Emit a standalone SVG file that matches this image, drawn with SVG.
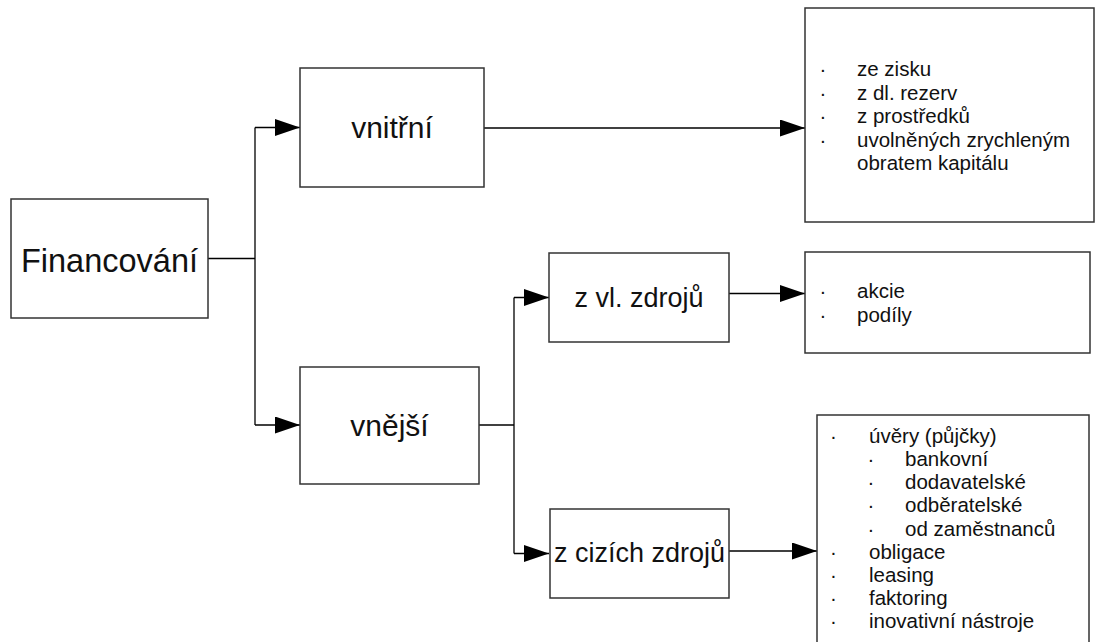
<svg xmlns="http://www.w3.org/2000/svg" width="1096" height="642" viewBox="0 0 1096 642">
  <style>
    .box { fill: #ffffff; stroke: #333333; stroke-width: 1.5; }
    .wire { fill: none; stroke: #000000; stroke-width: 1.3; }
    .lbl { font-family: "Liberation Sans", Arial, sans-serif; fill: #111111; text-anchor: middle; }
    .item { font-family: "Liberation Sans", Arial, sans-serif; font-size: 20.5px; fill: #111111; }
    .dot { font-family: "Liberation Sans", Arial, sans-serif; font-size: 20.5px; fill: #111111; text-anchor: middle; }
  </style>
  <defs>
    <marker id="arrow" markerUnits="userSpaceOnUse" markerWidth="26" markerHeight="18" refX="25" refY="8.5" orient="auto">
      <path d="M0,0 L25,8.5 L0,17 z" fill="#000000"/>
    </marker>
  </defs>

  <rect width="1096" height="642" fill="#ffffff"/>

  <!-- connectors -->
  <g id="connectors">
    <polyline class="wire" points="208,258.5 255,258.5"/>
    <polyline class="wire" points="255,127.5 255,425"/>
    <line class="wire" x1="255" y1="127.5" x2="300" y2="127.5" marker-end="url(#arrow)"/>
    <line class="wire" x1="255" y1="425" x2="300" y2="425" marker-end="url(#arrow)"/>
    <line class="wire" x1="484" y1="128" x2="805" y2="128" marker-end="url(#arrow)"/>
    <polyline class="wire" points="479,425 514,425"/>
    <polyline class="wire" points="514,297.5 514,553.5"/>
    <line class="wire" x1="514" y1="297.5" x2="549" y2="297.5" marker-end="url(#arrow)"/>
    <line class="wire" x1="514" y1="553.5" x2="549" y2="553.5" marker-end="url(#arrow)"/>
    <line class="wire" x1="729" y1="293.5" x2="805" y2="293.5" marker-end="url(#arrow)"/>
    <line class="wire" x1="729" y1="551" x2="817" y2="551" marker-end="url(#arrow)"/>
  </g>

  <g id="financovani">
    <rect class="box" x="11" y="199" width="197" height="119"/>
    <text class="lbl" x="109.5" y="272" font-size="32.5">Financování</text>
  </g>

  <g id="vnitrni">
    <rect class="box" x="300" y="68" width="184" height="119"/>
    <text class="lbl" x="392" y="138" font-size="30">vnitřní</text>
  </g>

  <g id="vnejsi">
    <rect class="box" x="300" y="367" width="179" height="117"/>
    <text class="lbl" x="389.5" y="436" font-size="30">vnější</text>
  </g>

  <g id="vlastni-zdroje">
    <rect class="box" x="549" y="253" width="180" height="89"/>
    <text class="lbl" x="639" y="307" font-size="27">z vl. zdrojů</text>
  </g>

  <g id="cizi-zdroje">
    <rect class="box" x="550" y="509" width="179" height="89"/>
    <text class="lbl" x="639.5" y="562" font-size="27">z cizích zdrojů</text>
  </g>

  <g id="vnitrni-seznam">
    <rect class="box" x="805" y="8" width="289" height="214"/>
    <text class="dot" x="823" y="76">·</text>
    <text class="item" x="857" y="76">ze zisku</text>
    <text class="dot" x="823" y="99.5">·</text>
    <text class="item" x="857" y="99.5">z dl. rezerv</text>
    <text class="dot" x="823" y="123">·</text>
    <text class="item" x="857" y="123">z prostředků</text>
    <text class="dot" x="823" y="146.5">·</text>
    <text class="item" x="857" y="146.5">uvolněných zrychleným</text>
    <text class="item" x="857" y="170">obratem kapitálu</text>
  </g>

  <g id="vlastni-seznam">
    <rect class="box" x="805" y="252" width="285" height="101"/>
    <text class="dot" x="823" y="298">·</text>
    <text class="item" x="857" y="298">akcie</text>
    <text class="dot" x="823" y="321.5">·</text>
    <text class="item" x="857" y="321.5">podíly</text>
  </g>

  <g id="cizi-seznam">
    <rect class="box" x="817" y="415" width="272" height="240"/>
    <text class="dot" x="833.5" y="442.7">·</text>
    <text class="item" x="869" y="442.7">úvěry (půjčky)</text>
    <text class="dot" x="871" y="465.9">·</text>
    <text class="item" x="905" y="465.9">bankovní</text>
    <text class="dot" x="871" y="489.1">·</text>
    <text class="item" x="905" y="489.1">dodavatelské</text>
    <text class="dot" x="871" y="512.3">·</text>
    <text class="item" x="905" y="512.3">odběratelské</text>
    <text class="dot" x="871" y="535.5">·</text>
    <text class="item" x="905" y="535.5">od zaměstnanců</text>
    <text class="dot" x="833.5" y="558.7">·</text>
    <text class="item" x="869" y="558.7">obligace</text>
    <text class="dot" x="833.5" y="581.9">·</text>
    <text class="item" x="869" y="581.9">leasing</text>
    <text class="dot" x="833.5" y="605.1">·</text>
    <text class="item" x="869" y="605.1">faktoring</text>
    <text class="dot" x="833.5" y="628.3">·</text>
    <text class="item" x="869" y="628.3">inovativní nástroje</text>
  </g>
</svg>
